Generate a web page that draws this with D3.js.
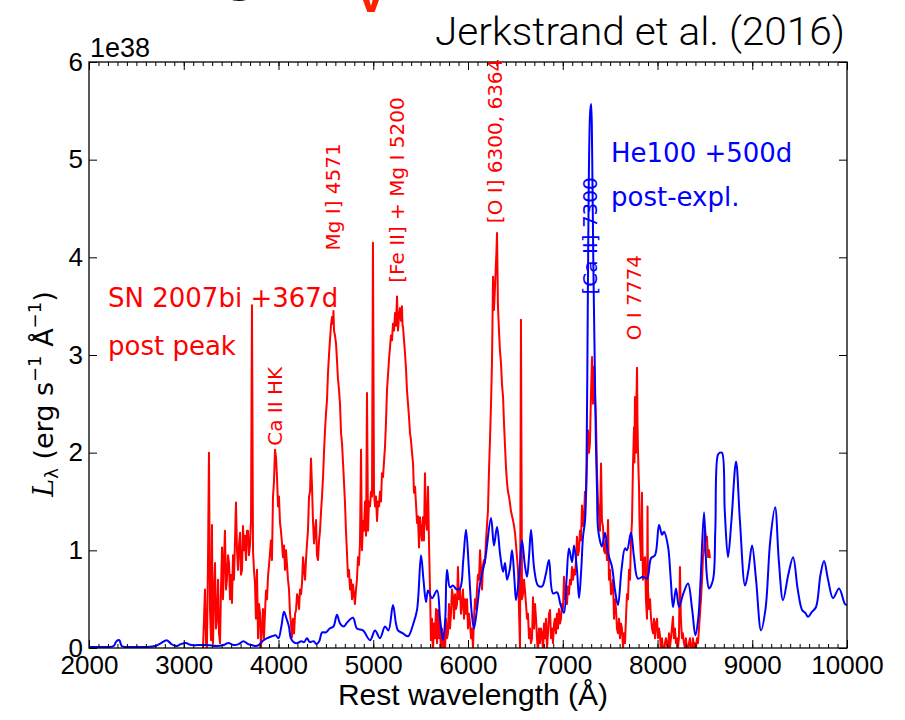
<!DOCTYPE html>
<html lang="en">

<head>
  <meta charset="utf-8">
  <title>SN 2007bi vs He100</title>
  <script type="text/javascript" src="https://cdn.jsdelivr.net/npm/d3@7"></script>
  <style>
    body { margin: 0; background: #fff; }
  </style>
</head>

<body>
  <script type="text/javascript">

    // Observed spectrum, SN 2007bi +367d  [wavelength (A), L (1e38 erg/s/A)]
    var redSpec = [
      [3203, 0.0], [3214, 0.3], [3224, 0.6], [3235, 0.05], [3245, 0.0], [3256, 0.9], [3266, 2.0], [3277, 0.4],
      [3288, 0.08], [3298, 1.26], [3304, 0.2], [3309, 0.05], [3320, 0.6], [3330, 0.87], [3340, 0.2], [3351, 0.3],
      [3362, 0.7], [3372, 0.15], [3383, 0.05], [3393, 0.6], [3404, 1.03], [3414, 0.5], [3425, 0.9], [3435, 1.2],
      [3446, 0.6], [3456, 0.7], [3467, 0.95], [3478, 0.87], [3488, 0.5], [3499, 0.75], [3509, 0.46], [3520, 0.95],
      [3530, 0.7], [3541, 1.1], [3551, 1.49], [3562, 1.0], [3573, 0.8], [3583, 1.05], [3594, 1.18], [3604, 0.75],
      [3615, 0.8], [3625, 1.25], [3636, 1.0], [3646, 1.15], [3657, 0.9], [3667, 1.2], [3678, 1.2], [3688, 0.95],
      [3699, 1.05], [3710, 1.31], [3720, 3.51], [3731, 1.0], [3741, 0.8], [3752, 0.66], [3762, 0.3], [3773, 0.8],
      [3784, 0.1], [3794, 0.45], [3805, 0.36], [3815, 0.0], [3826, 0.2], [3836, 0.4], [3847, 0.1], [3857, 0.35],
      [3868, 0.59], [3879, 0.5], [3889, 0.73], [3900, 0.85], [3910, 0.97], [3920, 1.1], [3931, 0.9], [3942, 1.55],
      [3952, 1.7], [3963, 2.03], [3974, 1.95], [3984, 1.75], [3995, 1.45], [4005, 1.55], [4016, 1.28], [4026, 1.2],
      [4037, 1.07], [4047, 0.93], [4058, 1.05], [4069, 0.8], [4079, 1.0], [4090, 0.85], [4100, 0.7], [4111, 0.6],
      [4121, 0.36], [4132, 0.25], [4142, 0.11], [4153, 0.3], [4164, 0.15], [4175, 0.35], [4185, 0.39], [4196, 0.55],
      [4206, 0.52], [4217, 0.4], [4227, 0.6], [4238, 0.55], [4248, 0.66], [4259, 0.93], [4270, 0.8], [4280, 0.7],
      [4290, 0.9], [4301, 1.07], [4311, 1.2], [4322, 1.55], [4333, 1.6], [4343, 1.94], [4354, 1.65], [4364, 1.3],
      [4375, 1.07], [4385, 1.2], [4396, 1.31], [4406, 0.95], [4417, 0.9], [4428, 1.1], [4438, 1.2], [4449, 1.4],
      [4459, 1.55], [4470, 1.75], [4480, 2.0], [4491, 2.23], [4501, 2.4], [4512, 2.54], [4522, 2.81], [4533, 3.0],
      [4543, 3.15], [4554, 3.3], [4565, 3.39], [4575, 3.32], [4580, 3.45], [4586, 3.25], [4596, 3.2], [4607, 3.12],
      [4617, 2.95], [4628, 2.75], [4638, 2.65], [4649, 2.5], [4660, 2.2], [4670, 2.1], [4681, 1.9], [4691, 1.7],
      [4702, 1.48], [4712, 1.2], [4723, 0.97], [4733, 0.73], [4744, 0.8], [4755, 0.6], [4765, 0.7], [4776, 0.5],
      [4786, 0.65], [4797, 0.55], [4807, 0.45], [4818, 0.6], [4828, 0.7], [4839, 0.93], [4849, 0.85], [4860, 1.07],
      [4871, 2.03], [4881, 1.0], [4892, 1.3], [4902, 1.2], [4913, 1.5], [4924, 1.15], [4934, 2.61], [4945, 1.2],
      [4955, 1.5], [4966, 1.45], [4976, 1.6], [4987, 1.55], [4997, 4.15], [5008, 1.6], [5019, 1.45], [5029, 1.55],
      [5040, 1.3], [5050, 1.5], [5061, 1.45], [5071, 1.6], [5082, 1.5], [5092, 1.79], [5103, 1.75], [5113, 1.9],
      [5124, 2.06], [5134, 2.3], [5145, 2.64], [5156, 2.8], [5166, 2.95], [5177, 3.08], [5187, 3.2], [5198, 3.15],
      [5208, 3.32], [5219, 3.25], [5230, 3.43], [5240, 3.3], [5251, 3.6], [5261, 3.25], [5272, 3.4], [5282, 3.48],
      [5293, 3.35], [5303, 3.5], [5309, 3.3], [5314, 3.29], [5325, 3.15], [5335, 3.02], [5346, 2.85], [5356, 2.64],
      [5367, 2.5], [5377, 2.37], [5388, 2.2], [5398, 2.13], [5409, 2.0], [5420, 1.89], [5430, 1.59], [5441, 1.65],
      [5451, 1.48], [5462, 1.28], [5472, 1.35], [5483, 1.03], [5493, 1.34], [5504, 1.2], [5514, 1.1], [5525, 1.34],
      [5535, 1.1], [5546, 1.79], [5556, 1.3], [5567, 1.21], [5578, 1.65], [5588, 1.1], [5599, 0.6], [5609, 0.08],
      [5620, 0.3], [5630, -0.05], [5641, 0.25], [5652, 0.1], [5662, 0.4], [5673, 0.05], [5683, 0.39], [5694, 0.1],
      [5704, 0.3], [5715, -0.1], [5725, 0.2], [5736, 0.0], [5746, 0.15], [5757, -0.05], [5768, 0.3], [5778, 0.1],
      [5789, 0.15], [5799, 0.45], [5810, 0.2], [5820, 0.35], [5831, 0.6], [5842, 0.52], [5852, 0.3], [5863, 0.55],
      [5873, 0.4], [5884, 0.45], [5894, 0.83], [5905, 0.5], [5916, 0.6], [5926, 0.35], [5937, 0.45], [5947, 0.6],
      [5958, 0.3], [5968, 0.5], [5979, 0.35], [5990, 0.5], [6000, 0.2], [6011, 0.35], [6021, 0.26], [6032, 0.1],
      [6042, 0.2], [6053, 0.0], [6063, 0.3], [6074, 0.5], [6084, 0.4], [6095, 0.6], [6105, 0.75], [6116, 0.7],
      [6127, 1.0], [6137, 0.8], [6148, 0.6], [6158, 0.85], [6169, 0.9], [6179, 0.87], [6190, 1.1], [6200, 1.25],
      [6211, 1.41], [6221, 1.8], [6232, 2.13], [6243, 2.5], [6253, 2.92], [6258, 3.3], [6264, 3.8], [6269, 3.6],
      [6274, 3.46], [6285, 3.7], [6295, 3.94], [6300, 4.05], [6306, 4.25], [6311, 3.9], [6316, 3.5], [6327, 3.25],
      [6337, 3.05], [6348, 2.92], [6359, 2.7], [6370, 2.57], [6380, 2.3], [6391, 2.06], [6401, 1.85], [6412, 1.69],
      [6422, 1.6], [6433, 1.55], [6443, 1.48], [6454, 1.4], [6465, 1.35], [6475, 1.31], [6486, 1.25], [6496, 1.18],
      [6507, 1.05], [6517, 0.93], [6528, 0.8], [6538, 0.4], [6549, 0.0], [6559, 3.36], [6570, 0.5], [6580, 0.55],
      [6591, 0.7], [6602, 0.58], [6612, 0.45], [6623, 0.3], [6633, 0.35], [6644, 0.1], [6654, 0.2], [6665, 0.05],
      [6676, 0.1], [6686, 0.52], [6697, 0.2], [6707, 0.45], [6718, 0.3], [6728, 0.1], [6739, -0.05], [6749, 0.2],
      [6760, 0.05], [6770, 0.2], [6781, 0.15], [6792, -0.05], [6802, 0.25], [6813, 0.1], [6823, 0.3], [6834, 0.0],
      [6844, 0.15], [6855, 0.35], [6866, 0.39], [6876, 0.1], [6887, 0.2], [6897, 0.05], [6908, 0.25], [6918, 0.3],
      [6929, 0.15], [6939, 0.35], [6950, 0.2], [6960, 0.4], [6971, 0.25], [6981, 0.3], [6992, 0.45], [7003, 0.4],
      [7013, 0.73], [7024, 0.5], [7034, 0.55], [7045, 0.45], [7055, 0.63], [7066, 0.55], [7076, 0.7], [7087, 0.65],
      [7098, 0.83], [7108, 0.7], [7119, 0.8], [7129, 0.75], [7140, 0.9], [7150, 1.14], [7161, 0.95], [7171, 1.0],
      [7182, 1.2], [7192, 1.1], [7203, 1.46], [7213, 1.25], [7224, 1.3], [7234, 1.6], [7245, 1.55], [7256, 1.9],
      [7266, 2.23], [7277, 2.0], [7287, 2.1], [7298, 2.6], [7309, 2.98], [7319, 2.5], [7330, 2.88], [7340, 2.6],
      [7351, 2.33], [7361, 1.82], [7372, 1.5], [7382, 1.38], [7393, 1.2], [7404, 1.89], [7414, 1.3], [7425, 1.24],
      [7435, 1.0], [7446, 0.97], [7456, 1.1], [7467, 0.9], [7478, 1.31], [7488, 0.7], [7499, 0.8], [7509, 0.55],
      [7520, 0.6], [7530, 0.7], [7541, 0.3], [7551, 0.5], [7562, 0.4], [7572, 0.2], [7583, 0.15], [7594, 0.3],
      [7604, 0.1], [7615, 0.25], [7625, 0.2], [7636, 0.0], [7646, 0.15], [7657, 0.05], [7667, 0.3], [7678, 0.55],
      [7689, 0.5], [7699, 0.8], [7710, 0.7], [7720, 1.1], [7731, 1.3], [7741, 1.85], [7752, 2.26], [7757, 1.9],
      [7762, 2.57], [7768, 2.2], [7773, 2.0], [7779, 2.6], [7784, 2.87], [7789, 2.3], [7794, 2.03], [7800, 1.8],
      [7805, 1.65], [7810, 1.3], [7815, 1.14], [7826, 0.9], [7836, 1.59], [7842, 1.0], [7847, 0.7], [7857, 0.9],
      [7868, 0.93], [7878, 0.5], [7889, 0.3], [7895, 1.45], [7900, 0.6], [7910, 0.4], [7921, 0.5], [7932, 0.3],
      [7942, 0.2], [7953, 0.15], [7963, 0.3], [7974, 0.1], [7984, 0.25], [7995, 0.3], [8005, 0.1], [8016, 0.2],
      [8026, 0.13], [8037, -0.05], [8047, 0.1], [8058, 0.0], [8068, -0.1], [8079, 0.05], [8089, 0.1], [8100, 0.05],
      [8110, -0.05], [8121, 0.15], [8131, 0.0], [8142, 0.1], [8152, 0.2], [8163, 0.32], [8173, 0.1], [8184, 0.2],
      [8195, 0.05], [8205, 0.1], [8216, 0.0], [8226, 0.1], [8237, 0.83], [8247, 0.3], [8258, 0.1], [8268, 0.15],
      [8279, 0.05], [8290, 0.0], [8300, 0.1], [8311, 0.0], [8321, -0.05], [8332, 0.05], [8343, 0.1], [8353, 0.0],
      [8364, -0.05], [8374, 0.1], [8385, 0.0], [8395, 0.05], [8406, 0.0], [8417, 0.1], [8427, 0.05], [8438, 0.2],
      [8449, 0.36], [8459, 0.5], [8470, 0.7], [8480, 0.93], [8491, 1.0], [8501, 1.24], [8512, 1.1], [8522, 1.14],
      [8533, 0.93], [8544, 1.0], [8554, 0.92]
    ];

    // Model spectrum, He100 +500d
    var blueSpec = [
      [2000, 0.01], [2100, 0.01], [2200, 0.01], [2260, 0.02], [2290, 0.07], [2320, 0.08], [2345, 0.02], [2400, 0.01],
      [2500, 0.01], [2600, 0.01], [2700, 0.02], [2760, 0.05], [2820, 0.08], [2870, 0.04], [2920, 0.02], [2970, 0.04],
      [3020, 0.05], [3080, 0.03], [3150, 0.03], [3250, 0.03], [3350, 0.02], [3420, 0.03], [3470, 0.05], [3530, 0.03],
      [3580, 0.04], [3630, 0.07], [3680, 0.04], [3720, 0.03], [3760, 0.02], [3790, 0.03], [3830, 0.07], [3880, 0.1],
      [3930, 0.12], [3970, 0.13], [4000, 0.1], [4030, 0.22], [4058, 0.37], [4085, 0.3], [4110, 0.22], [4130, 0.1],
      [4160, 0.06], [4200, 0.05], [4240, 0.07], [4270, 0.06], [4300, 0.1], [4330, 0.06], [4370, 0.07], [4400, 0.04],
      [4430, 0.07], [4460, 0.16], [4500, 0.16], [4540, 0.2], [4580, 0.22], [4617, 0.34], [4650, 0.25], [4690, 0.22],
      [4723, 0.26], [4786, 0.31], [4828, 0.2], [4892, 0.18], [4966, 0.08], [5019, 0.18], [5071, 0.1], [5124, 0.22],
      [5160, 0.18], [5208, 0.44], [5240, 0.25], [5261, 0.18], [5314, 0.15], [5367, 0.12], [5420, 0.24], [5462, 0.39],
      [5504, 0.95], [5530, 0.7], [5557, 0.47], [5578, 0.59], [5620, 0.51], [5673, 0.59], [5705, 0.3], [5736, 0.08],
      [5760, 0.3], [5778, 0.8], [5810, 0.62], [5842, 0.64], [5880, 0.6], [5916, 0.61], [5950, 0.9], [5979, 1.21],
      [6010, 0.8], [6040, 0.35], [6063, 0.2], [6095, 0.4], [6127, 0.66], [6180, 0.9], [6243, 1.33], [6274, 1.05],
      [6306, 1.24], [6340, 0.95], [6370, 0.78], [6391, 0.87], [6412, 0.7], [6440, 0.8], [6465, 1.0], [6490, 0.7],
      [6507, 0.49], [6540, 0.75], [6570, 1.1], [6600, 0.85], [6623, 0.73], [6645, 0.95], [6665, 1.21], [6700, 0.8],
      [6739, 0.64], [6781, 0.63], [6820, 0.75], [6855, 0.9], [6897, 0.56], [6940, 0.57], [6975, 0.45], [7013, 0.36],
      [7040, 0.7], [7066, 1.02], [7098, 0.88], [7119, 1.05], [7150, 0.8], [7172, 0.51], [7195, 0.8], [7214, 1.14],
      [7235, 1.3], [7250, 1.8], [7262, 3.2], [7275, 4.8], [7290, 5.5], [7300, 5.57], [7310, 5.1], [7322, 4.0],
      [7335, 3.1], [7350, 2.1], [7362, 1.6], [7375, 1.2], [7414, 1.04], [7446, 1.18], [7478, 0.97], [7520, 0.83],
      [7550, 0.6], [7583, 0.44], [7620, 0.8], [7657, 1.02], [7678, 1.0], [7720, 1.18], [7752, 0.93], [7794, 0.71],
      [7847, 0.73], [7890, 0.71], [7932, 0.92], [7974, 0.95], [8016, 1.26], [8048, 1.16], [8069, 1.19], [8111, 1.04],
      [8140, 0.7], [8164, 0.42], [8195, 0.61], [8227, 0.42], [8270, 0.55], [8322, 0.66], [8365, 0.4], [8400, 0.13],
      [8430, 0.3], [8455, 0.7], [8491, 1.39], [8520, 0.75], [8544, 0.61], [8586, 0.7], [8610, 1.2], [8638, 1.98],
      [8660, 2.0], [8681, 2.0], [8710, 1.4], [8744, 0.93], [8780, 1.3], [8829, 1.91], [8870, 1.3], [8924, 0.64],
      [8960, 0.8], [8998, 1.05], [9040, 0.7], [9093, 0.18], [9140, 0.4], [9190, 1.1], [9241, 1.44], [9280, 0.9],
      [9325, 0.49], [9380, 0.75], [9431, 0.93], [9480, 0.6], [9526, 0.39], [9560, 0.36], [9589, 0.32], [9630, 0.37],
      [9673, 0.42], [9720, 0.75], [9758, 0.89], [9800, 0.7], [9853, 0.51], [9916, 0.61], [9979, 0.45], [10000, 0.44]
    ];

    // Axis ticks
    var xTicks = [2000, 3000, 4000, 5000, 6000, 7000, 8000, 9000, 10000];
    var xMinorTicks = d3.range(2000, 10001, 100);
    var yTicks = [0, 1, 2, 3, 4, 5, 6];

    // Line identifications: [label, wavelength anchor, height anchor, colour]
    var lineLabels = [
      ["Ca II HK", 3960, 2.07, "red"],
      ["Mg I] 4571", 4570, 4.07, "red"],
      ["[Fe II] + Mg I 5200", 5250, 3.74, "red"],
      ["[O I] 6300, 6364", 6290, 4.35, "red"],
      ["[Ca II] 7300", 7288, 3.62, "blue"],
      ["O I 7774", 7753, 3.15, "red"]
    ];

    var W = 905;
    var H = 720;
    var margin = { left: 89, right: 58, top: 62, bottom: 72 };
    var w = W - margin.left - margin.right;
    var h = H - margin.top - margin.bottom;

    var xScale = d3.scaleLinear().domain([2000, 10000]).range([0, w]);
    var yScale = d3.scaleLinear().domain([0, 6]).range([h, 0]);

    var svg = d3.select("body")
      .append("svg")
      .attr("width", W)
      .attr("height", H);

    // Cut-off slide title fragments at the very top
    svg.append("text")
      .attr("x", 240).attr("y", -12)
      .attr("text-anchor", "middle")
      .attr("font-family", "Liberation Sans")
      .attr("font-weight", "bold")
      .attr("font-size", 64)
      .attr("fill", "black")
      .text("g");
    svg.append("text")
      .attr("x", 371).attr("y", 12)
      .attr("text-anchor", "middle")
      .attr("font-family", "Liberation Sans")
      .attr("font-weight", "bold")
      .attr("font-size", 50)
      .attr("fill", "#ff2200")
      .text("V");

    // Reference
    svg.append("text")
      .attr("x", 845).attr("y", 45)
      .attr("text-anchor", "end")
      .attr("font-family", "Roboto")
      .attr("font-weight", 300)
      .attr("font-size", 38)
      .attr("textLength", 410)
      .attr("lengthAdjust", "spacingAndGlyphs")
      .attr("fill", "black")
      .text("Jerkstrand et al. (2016)");

    var g = svg.append("g")
      .attr("transform", "translate(" + margin.left + "," + margin.top + ")");

    g.append("clipPath").attr("id", "clip")
      .append("rect").attr("width", w).attr("height", h);

    var line = d3.line()
      .x(function (d) { return xScale(d[0]); })
      .y(function (d) { return yScale(d[1]); });

    var smoothLine = d3.line()
      .x(function (d) { return xScale(d[0]); })
      .y(function (d) { return yScale(d[1]); })
      .curve(d3.curveCatmullRom.alpha(0.5));

    // Spectra
    g.append("path")
      .datum(redSpec)
      .attr("clip-path", "url(#clip)")
      .attr("d", line)
      .attr("fill", "none")
      .attr("stroke", "#ff0000")
      .attr("stroke-width", 2)
      .attr("stroke-linejoin", "round");

    g.append("path")
      .datum(blueSpec)
      .attr("clip-path", "url(#clip)")
      .attr("d", smoothLine)
      .attr("fill", "none")
      .attr("stroke", "#0000ff")
      .attr("stroke-width", 2)
      .attr("stroke-linejoin", "round");

    // Axes with inward ticks
    function styleAxis(sel) {
      sel.select(".domain").remove();
      sel.selectAll(".tick line").attr("stroke", "black").attr("stroke-width", 1);
      sel.selectAll(".tick text")
        .attr("font-family", "Liberation Sans")
        .attr("font-size", 26)
        .attr("fill", "black");
    }

    g.append("g")
      .attr("transform", "translate(0," + h + ")")
      .call(d3.axisBottom(xScale).tickValues(xMinorTicks).tickSize(-4).tickFormat(""))
      .call(styleAxis);
    g.append("g")
      .call(d3.axisTop(xScale).tickValues(xMinorTicks).tickSize(-4).tickFormat(""))
      .call(styleAxis);

    g.append("g")
      .attr("transform", "translate(0," + h + ")")
      .call(d3.axisBottom(xScale).tickValues(xTicks).tickSize(-8).tickPadding(8).tickFormat(d3.format("d")))
      .call(styleAxis);
    g.append("g")
      .call(d3.axisTop(xScale).tickValues(xTicks).tickSize(-8).tickFormat(""))
      .call(styleAxis);

    g.append("g")
      .call(d3.axisLeft(yScale).tickValues(yTicks).tickSize(-8).tickPadding(6).tickFormat(d3.format("d")))
      .call(styleAxis);
    g.append("g")
      .attr("transform", "translate(" + w + ",0)")
      .call(d3.axisRight(yScale).tickValues(yTicks).tickSize(-8).tickFormat(""))
      .call(styleAxis);

    // Frame
    g.append("rect")
      .attr("width", w)
      .attr("height", h)
      .attr("fill", "none")
      .attr("stroke", "black")
      .attr("stroke-width", 1.3);

    // Offset text
    g.append("text")
      .attr("x", 1).attr("y", -5)
      .attr("font-family", "Liberation Sans")
      .attr("font-size", 27)
      .attr("fill", "black")
      .text("1e38");

    // Axis labels
    svg.append("text")
      .attr("x", margin.left + w / 2 + 5)
      .attr("y", 705)
      .attr("text-anchor", "middle")
      .attr("font-family", "Liberation Sans")
      .attr("font-size", 30)
      .attr("fill", "black")
      .text("Rest wavelength (Å)");

    var yLab = svg.append("text")
      .attr("transform", "translate(53,394) rotate(-90)")
      .attr("text-anchor", "middle")
      .attr("font-family", "DejaVu Sans")
      .attr("font-size", 27)
      .attr("fill", "black");
    yLab.append("tspan").attr("font-family", "DejaVu Serif").attr("font-style", "italic").text("L");
    yLab.append("tspan").attr("font-size", 18).attr("dy", 5).text("λ");
    yLab.append("tspan").attr("dy", -5).text(" (erg s");
    yLab.append("tspan").attr("font-size", 18).attr("dy", -12).text("−1");
    yLab.append("tspan").attr("dy", 12).text(" Å");
    yLab.append("tspan").attr("font-size", 18).attr("dy", -12).text("−1");
    yLab.append("tspan").attr("dy", 12).text(")");

    // Epoch annotations
    var notes = [
      ["SN 2007bi +367d", 108, 307, "#ff0000"],
      ["post peak", 108, 355, "#ff0000"],
      ["He100 +500d", 611, 162, "#0000ff"],
      ["post-expl.", 611, 206, "#0000ff"]
    ];
    svg.selectAll("text.note")
      .data(notes)
      .enter()
      .append("text")
      .attr("class", "note")
      .attr("x", function (d) { return d[1]; })
      .attr("y", function (d) { return d[2]; })
      .attr("font-family", "DejaVu Sans")
      .attr("font-size", 26)
      .attr("fill", function (d) { return d[3]; })
      .text(function (d) { return d[0]; });

    // Rotated line identifications
    g.selectAll("text.ident")
      .data(lineLabels)
      .enter()
      .append("text")
      .attr("class", "ident")
      .attr("transform", function (d) {
        return "translate(" + (xScale(d[1]) + 7) + "," + yScale(d[2]) + ") rotate(-90)";
      })
      .attr("font-family", "DejaVu Sans")
      .attr("font-size", 20)
      .attr("fill", function (d) { return d[3] == "blue" ? "#0000ff" : "#ff0000"; })
      .text(function (d) { return d[0]; });

  </script>
</body>

</html>
